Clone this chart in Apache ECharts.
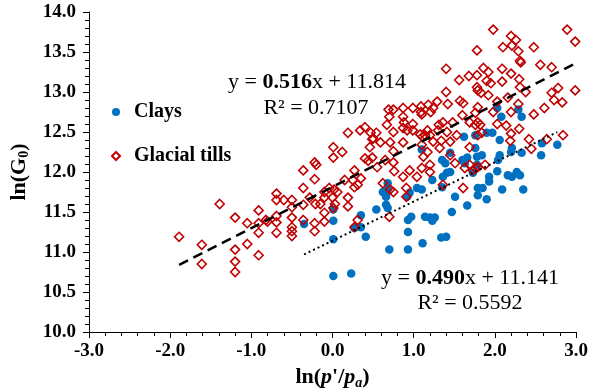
<!DOCTYPE html>
<html><head><meta charset="utf-8">
<script src="https://cdn.jsdelivr.net/npm/echarts@6/dist/echarts.min.js"></script>
<style>html,body{margin:0;padding:0;background:#fff}#c{width:604px;height:391px}</style>
</head><body><div id="c"></div>
<script>
// ---- data ----
const clays = [[-0.35,11.35],[0.01,11.53],[0.01,11.39],[0.01,11.16],[0.01,10.70],[0.23,10.73],[0.35,11.46],[0.27,11.30],[0.35,11.31],[0.41,11.19],[0.54,11.53],[0.68,11.86],[0.68,11.78],[0.62,11.75],[0.66,11.69],[0.66,11.59],[0.68,11.55],[0.70,11.03],[0.93,11.03],[0.93,11.25],[0.93,11.40],[0.97,11.44],[1.11,11.11],[1.14,11.44],[1.20,11.43],[1.26,11.43],[1.23,11.39],[1.34,11.18],[1.40,11.19],[1.47,11.50],[1.51,11.69],[1.66,11.58],[0.95,11.74],[1.04,11.80],[1.10,11.78],[1.23,11.90],[1.36,11.94],[1.35,11.81],[1.10,12.28],[1.35,12.15],[1.39,12.11],[1.45,12.00],[1.41,11.99],[1.60,12.15],[1.63,12.11],[1.78,12.19],[1.84,12.21],[1.78,12.09],[1.73,11.99],[1.79,11.80],[1.79,11.71],[1.90,11.66],[1.85,11.80],[2.09,11.78],[2.35,11.78],[1.93,11.94],[2.03,12.01],[2.16,11.96],[2.21,11.94],[2.27,12.00],[2.31,11.96],[2.06,12.21],[2.04,12.15],[2.20,12.25],[2.33,12.24],[2.57,12.21],[2.77,12.34],[2.58,12.36],[2.03,12.80],[2.08,12.69],[2.29,12.78],[2.33,12.69],[1.62,12.44],[1.76,12.46],[1.90,12.49],[1.97,12.49],[2.06,12.40],[1.76,12.30],[2.21,12.30],[1.45,12.24],[1.66,12.18],[1.93,11.88],[0.92,11.69]];
const tills = [[-1.89,11.19],[-1.61,11.09],[-1.61,10.85],[-1.39,11.60],[-1.20,11.43],[-1.20,11.03],[-1.20,10.88],[-1.20,10.75],[-1.05,11.36],[-1.05,11.10],[-0.91,11.52],[-0.91,11.36],[-0.91,11.24],[-0.91,10.96],[-0.80,11.38],[-0.82,11.40],[-0.69,11.73],[-0.69,11.65],[-0.69,11.45],[-0.69,11.37],[-0.69,11.24],[-0.60,11.65],[-0.50,11.65],[-0.50,11.56],[-0.50,11.43],[-0.50,11.31],[-0.50,11.26],[-0.50,11.20],[-0.36,12.02],[-0.36,11.80],[-0.36,11.59],[-0.36,11.40],[-0.28,11.68],[-0.22,11.91],[-0.22,12.12],[-0.20,12.09],[-0.21,11.60],[-0.22,11.36],[-0.22,11.26],[-0.15,11.60],[-0.10,11.75],[-0.10,11.68],[-0.10,11.49],[-0.10,11.38],[-0.04,11.80],[0.01,12.31],[0.01,12.18],[0.00,11.68],[0.01,11.55],[0.03,11.60],[0.06,11.75],[0.02,11.78],[0.12,12.25],[0.15,11.90],[0.19,12.49],[0.19,11.68],[0.19,11.57],[0.25,11.90],[0.27,12.02],[0.27,11.81],[0.31,11.84],[0.35,11.92],[0.27,11.31],[0.31,11.40],[0.34,12.52],[0.40,12.56],[0.40,12.17],[0.44,12.14],[0.49,12.18],[0.47,12.49],[0.49,12.41],[0.46,12.31],[0.50,12.42],[0.54,12.49],[0.55,12.06],[0.59,12.37],[0.65,12.15],[0.62,11.86],[0.67,12.59],[0.70,12.69],[0.69,12.78],[0.75,12.78],[0.75,12.50],[0.75,12.26],[0.75,12.12],[0.76,12.01],[0.75,11.75],[0.71,12.37],[0.71,11.78],[0.70,11.44],[0.87,12.80],[0.87,12.69],[0.88,12.62],[0.87,12.55],[0.92,12.52],[0.87,12.37],[0.87,11.94],[0.91,11.80],[0.91,11.69],[0.95,12.02],[0.99,12.80],[0.99,12.60],[0.99,12.52],[1.04,11.94],[1.09,12.82],[1.09,12.75],[1.10,12.72],[1.08,12.47],[1.14,12.46],[1.10,12.34],[1.10,12.05],[1.12,12.19],[1.17,12.25],[1.17,12.52],[1.11,12.44],[1.18,12.84],[1.20,12.46],[1.20,12.09],[1.20,12.00],[1.21,12.75],[1.24,12.80],[1.24,12.38],[1.29,12.88],[1.31,12.59],[1.30,12.52],[1.34,12.39],[1.32,12.30],[1.36,12.62],[1.36,11.84],[1.41,12.50],[1.40,13.29],[1.40,13.00],[1.42,12.85],[1.45,12.38],[1.45,12.21],[1.48,12.62],[1.51,12.11],[1.53,12.46],[1.56,13.15],[1.57,12.89],[1.61,12.86],[1.60,12.71],[1.61,11.80],[1.63,12.05],[1.68,13.20],[1.69,12.62],[1.69,12.31],[1.69,12.09],[1.73,12.02],[1.76,12.74],[1.76,12.59],[1.76,12.05],[1.78,13.52],[1.78,13.21],[1.78,13.06],[1.79,13.02],[1.83,12.99],[1.79,12.81],[1.79,12.62],[1.82,12.59],[1.79,12.46],[1.84,12.49],[1.79,12.06],[1.88,12.09],[1.86,13.30],[1.92,13.25],[1.90,13.14],[1.95,13.11],[1.92,12.96],[1.98,13.78],[1.98,12.75],[2.03,12.88],[2.03,12.60],[2.09,13.29],[2.09,13.13],[2.10,13.56],[2.14,12.58],[2.16,12.93],[2.20,13.70],[2.21,13.58],[2.20,13.23],[2.20,12.75],[2.20,12.48],[2.19,12.39],[2.26,13.65],[2.29,13.51],[2.30,13.16],[2.31,13.39],[2.32,13.37],[2.31,13.06],[2.29,12.85],[2.30,12.54],[2.38,13.00],[2.42,12.41],[2.45,12.29],[2.48,13.56],[2.48,12.72],[2.56,13.34],[2.61,12.80],[2.64,12.41],[2.70,13.31],[2.70,12.99],[2.73,12.90],[2.78,13.05],[2.83,12.87],[2.84,12.46],[2.89,13.78],[2.99,13.63],[2.99,13.02]];
// regression: [slope, intercept, R²]
const clayFit = [0.490, 11.141, 0.5592];
const tillFit = [0.516, 11.814, 0.7107];
const seriesNames = ['Clays', 'Glacial tills'];
const xRange = [-3.0, 3.0, 1.0];
const yRange = [10.0, 14.0, 0.5];

// ---- chart ----
const F = '"Liberation Serif","Times New Roman",serif';
function fitLine(pts, fit) {
  const xs = pts.map(p => p[0]);
  const a = Math.min(...xs), b = Math.max(...xs);
  return [[a, fit[0] * a + fit[1]], [b, fit[0] * b + fit[1]]];
}
const chart = echarts.init(document.getElementById('c'), null, {renderer: 'canvas'});
const axisCommon = {
  axisLine: {show: true, onZero: false, lineStyle: {color: '#000', width: 1}},
  axisTick: {show: true, inside: false, length: 6, lineStyle: {color: '#000', width: 1}},
  minorTick: {show: true, splitNumber: 5, length: 4, lineStyle: {color: '#000', width: 1}},
  splitLine: {show: false},
  axisLabel: {color: '#000', fontFamily: F, fontWeight: 'bold', fontSize: 19, formatter: v => v.toFixed(1)}
};
const eqStyle = (t, x, y) => ({
  type: 'text', x: x, y: y, z: 100,
  style: {
    text: t, fill: '#000', font: '22px ' + F, fontSize: 22, fontFamily: F,
    align: 'center', verticalAlign: 'middle', textAlign: 'center', textVerticalAlign: 'middle',
    rich: {
      n: {fontSize: 22, fontFamily: F, fill: '#000', color: '#000'},
      b: {fontSize: 22, fontFamily: F, fontWeight: 'bold', fill: '#000', color: '#000'}
    }
  }
});
chart.setOption({
  animation: false,
  backgroundColor: '#fff',
  grid: {left: 89, right: 28, top: 12, bottom: 59, containLabel: false, outerBoundsMode: 'none'},
  legend: {
    orient: 'vertical', left: 111, top: 102, padding: 0, itemWidth: 8, itemHeight: 8, itemGap: 24,
    data: seriesNames,
    textStyle: {fontFamily: F, fontWeight: 'bold', fontSize: 20, color: '#000', lineHeight: 20, padding: [0, 0, 0, 9]}
  },
  xAxis: Object.assign({}, axisCommon, {
    type: 'value', min: xRange[0], max: xRange[1], interval: xRange[2],
    name: "{a|ln(}{i|p}{a|'/}{i|p}{s|a}{a|)}", nameLocation: 'middle', nameGap: 32,
    nameTextStyle: {rich: {
      a: {fontFamily: F, fontWeight: 'bold', fontSize: 22, color: '#000', lineHeight: 26},
      i: {fontFamily: F, fontWeight: 'bold', fontStyle: 'italic', fontSize: 22, color: '#000', lineHeight: 26},
      s: {fontFamily: F, fontWeight: 'bold', fontStyle: 'italic', fontSize: 14, color: '#000', lineHeight: 16, verticalAlign: 'bottom'}
    }},
    axisLabel: Object.assign({}, axisCommon.axisLabel, {margin: 10})
  }),
  yAxis: Object.assign({}, axisCommon, {
    type: 'value', min: yRange[0], max: yRange[1], interval: yRange[2],
    name: '{a|ln(G}{s|0}{a|)}', nameLocation: 'middle', nameGap: 52, nameRotate: 90,
    nameTextStyle: {rich: {
      a: {fontFamily: F, fontWeight: 'bold', fontSize: 22, color: '#000', lineHeight: 26},
      s: {fontFamily: F, fontWeight: 'bold', fontSize: 14, color: '#000', lineHeight: 16, verticalAlign: 'bottom'}
    }},
    axisLabel: Object.assign({}, axisCommon.axisLabel, {margin: 13})
  }),
  series: [
    {name: seriesNames[0], type: 'scatter', data: clays, symbol: 'circle', symbolSize: 8.5, z: 2,
     itemStyle: {color: '#0070C0', opacity: 1}},
    {name: seriesNames[1], type: 'scatter', data: tills, symbol: 'diamond', symbolSize: 9, z: 3,
     itemStyle: {color: 'rgba(255,255,255,0)', borderColor: '#C00000', borderWidth: 1.6, opacity: 1}},
    {name: 'tillFit', type: 'line', data: fitLine(tills, tillFit), symbol: 'none', z: 5, silent: true,
     lineStyle: {color: '#000', width: 2.5, type: [10, 6]}},
    {name: 'clayFit', type: 'line', data: fitLine(clays, clayFit), symbol: 'none', z: 5, silent: true,
     lineStyle: {color: '#000', width: 2, type: [2, 3]}}
  ],
  graphic: [
    eqStyle('{n|y = }{b|' + tillFit[0].toFixed(3) + '}{n|x + ' + tillFit[1].toFixed(3) + '}', 317, 82),
    eqStyle('{n|R² = ' + tillFit[2].toFixed(4) + '}', 316, 108),
    eqStyle('{n|y = }{b|' + clayFit[0].toFixed(3) + '}{n|x + ' + clayFit[1].toFixed(3) + '}', 470, 278),
    eqStyle('{n|R² = ' + clayFit[2].toFixed(4) + '}', 470, 303)
  ]
});
</script></body></html>
